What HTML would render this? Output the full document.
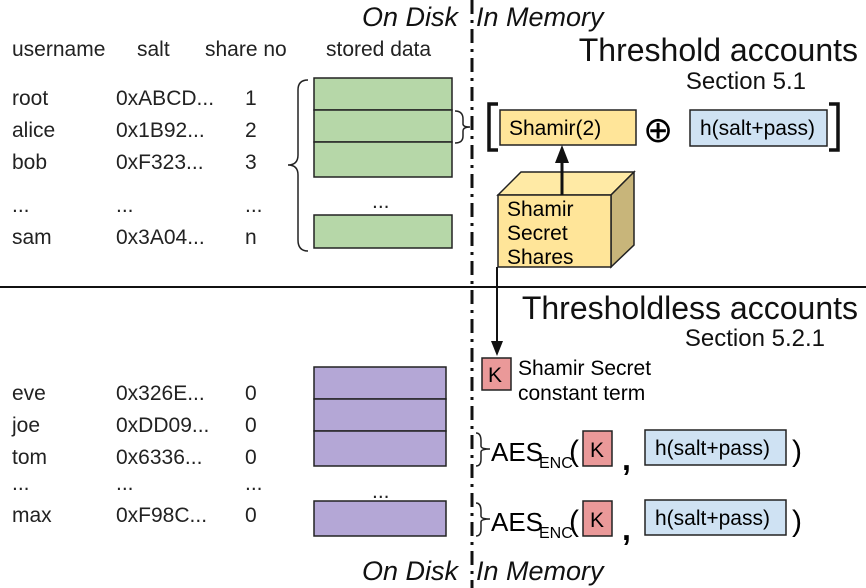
<!DOCTYPE html>
<html><head><style>body{margin:0;background:#fff}svg{display:block}text{font-family:"Liberation Sans",sans-serif}</style></head>
<body>
<svg width="866" height="588" viewBox="0 0 866 588" xmlns="http://www.w3.org/2000/svg">
<g font-size="21" fill="#222">
<text x="12" y="56">username</text><text x="137" y="56">salt</text><text x="205" y="56">share no</text><text x="326" y="56">stored data</text>
<text x="12" y="105">root</text><text x="116" y="105">0xABCD...</text><text x="245" y="105">1</text>
<text x="12" y="137">alice</text><text x="116" y="137">0x1B92...</text><text x="245" y="137">2</text>
<text x="12" y="169">bob</text><text x="116" y="169">0xF323...</text><text x="245" y="169">3</text>
<text x="12" y="212">...</text><text x="116" y="212">...</text><text x="245" y="212">...</text><text x="372" y="208">...</text>
<text x="12" y="244">sam</text><text x="116" y="244">0x3A04...</text><text x="245" y="244">n</text>
<text x="12" y="400">eve</text><text x="116" y="400">0x326E...</text><text x="245" y="400">0</text>
<text x="12" y="432">joe</text><text x="116" y="432">0xDD09...</text><text x="245" y="432">0</text>
<text x="12" y="464">tom</text><text x="116" y="464">0x6336...</text><text x="245" y="464">0</text>
<text x="12" y="490">...</text><text x="116" y="490">...</text><text x="245" y="490">...</text><text x="372" y="498">...</text>
<text x="12" y="522">max</text><text x="116" y="522">0xF98C...</text><text x="245" y="522">0</text>
</g>
<g stroke="#222" stroke-width="1.5" fill="#b6d7a8">
<rect x="314" y="78" width="138" height="32"/><rect x="314" y="110" width="138" height="32"/><rect x="314" y="142" width="138" height="35"/><rect x="314" y="215" width="138" height="33"/>
</g>
<g stroke="#222" stroke-width="1.5" fill="#b4a7d6">
<rect x="314" y="367" width="132" height="32"/><rect x="314" y="399" width="132" height="32"/><rect x="314" y="431" width="132" height="35"/><rect x="314" y="501" width="132" height="35"/>
</g>
<g fill="none" stroke="#222" stroke-width="1.5">
<path d="M308,80 Q298,80 298,90 L298,155 Q298,165 288,165 Q298,165 298,175 L298,240 Q298,251 308,251"/>
<path d="M455,111 Q463,111 463,119 L463,124 Q463,127 470,127 Q463,127 463,131 L463,136 Q463,143 455,143"/>
<path d="M476,433 Q481,433 481,441 L481,446 Q481,449 490,449 Q481,449 481,452 L481,459 Q481,466 476,466"/>
<path d="M476,503 Q481,503 481,511 L481,516 Q481,519 490,519 Q481,519 481,522 L481,529 Q481,536 476,536"/>
</g>
<line x1="472" y1="0" x2="472" y2="588" stroke="#111" stroke-width="3" stroke-dasharray="14,6,3,6"/>
<line x1="0" y1="287" x2="866" y2="287" stroke="#111" stroke-width="2"/>
<g font-style="italic" font-size="27" fill="#111"><text x="362" y="26">On Disk</text><text x="476" y="26">In Memory</text><text x="362" y="580">On Disk</text><text x="476" y="580">In Memory</text></g>
<g fill="#111"><text x="858" y="61" font-size="32" text-anchor="end">Threshold accounts</text><text x="806" y="89" font-size="24" text-anchor="end">Section 5.1</text>
<text x="858" y="319" font-size="32" text-anchor="end">Thresholdless accounts</text><text x="825" y="346" font-size="24" text-anchor="end">Section 5.2.1</text></g>
<path d="M498,104 L489,104 L489,150 L498,150" fill="none" stroke="#111" stroke-width="3.5"/>
<path d="M829,104 L838,104 L838,150 L829,150" fill="none" stroke="#111" stroke-width="3.5"/>
<rect x="500" y="110" width="136" height="35" fill="#ffe599" stroke="#222" stroke-width="1.5"/>
<text x="509" y="135" font-size="21">Shamir(2)</text>
<text x="643" y="142" font-size="36">⊕</text>
<rect x="690" y="110" width="137" height="36" fill="#cfe2f3" stroke="#222" stroke-width="1.5"/>
<text x="700" y="135" font-size="21">h(salt+pass)</text>
<polygon points="498,195 521,172 634,172 611,195" fill="#ffeaa5" stroke="#222" stroke-width="1.5"/>
<polygon points="611,195 634,172 634,245 611,267" fill="#c8b57a" stroke="#222" stroke-width="1.5"/>
<rect x="498" y="195" width="113" height="72" fill="#ffe599" stroke="#222" stroke-width="1.5"/>
<g font-size="21"><text x="507" y="216">Shamir</text><text x="507" y="240">Secret</text><text x="507" y="264">Shares</text></g>
<line x1="562" y1="195" x2="562" y2="160" stroke="#111" stroke-width="3"/><polygon points="555,163 569,163 562,145" fill="#111"/>
<line x1="497" y1="267" x2="497" y2="342" stroke="#111" stroke-width="2"/><polygon points="491,341 503,341 497,356" fill="#111"/>
<rect x="482" y="358" width="29" height="32" fill="#ea9999" stroke="#222" stroke-width="1.5"/><text x="488" y="382" font-size="21">K</text>
<g font-size="21"><text x="518" y="375">Shamir Secret</text><text x="518" y="400">constant term</text></g>
<g id="aes">
<text x="491" y="461" font-size="26">AES</text><text x="539" y="468" font-size="16">ENC</text><text x="569" y="461" font-size="30">(</text>
<rect x="583" y="431" width="29" height="35" fill="#ea9999" stroke="#222" stroke-width="1.5"/><text x="590" y="457" font-size="21">K</text>
<text x="622" y="470" font-size="32" font-weight="bold">,</text>
<rect x="645" y="430" width="141" height="35" fill="#cfe2f3" stroke="#222" stroke-width="1.5"/><text x="655" y="455" font-size="21">h(salt+pass)</text>
<text x="792" y="461" font-size="30">)</text>
</g>
<use href="#aes" y="70"/>
</svg>
</body></html>
